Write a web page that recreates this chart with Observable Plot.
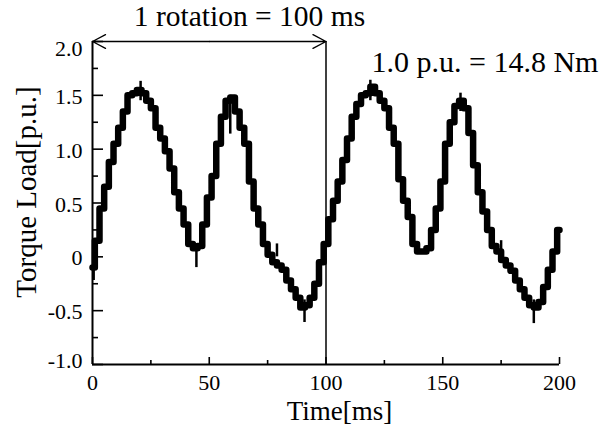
<!DOCTYPE html>
<html><head><meta charset="utf-8">
<script src="https://cdn.jsdelivr.net/npm/d3@7"></script>
<script src="https://cdn.jsdelivr.net/npm/@observablehq/plot@0.6"></script>
<style>body{margin:0;background:#fff;} svg text{font-family:'Liberation Serif','Times New Roman',serif;}</style>
</head><body><div id="chart"></div>
<script>
// ---- data ----
const timeMs = [0,2,4,6,8,10,12,14,16,18,20,22,24,26,28,30,32,34,36,38,40,42,44,46,48,50,52,54,56,58,60,62,64,66,68,70,72,74,76,78,80,82,84,86,88,90,92,94,96,98,100,102,104,106,108,110,112,114,116,118,120,122,124,126,128,130,132,134,136,138,140,142,144,146,148,150,152,154,156,158,160,162,164,166,168,170,172,174,176,178,180,182,184,186,188,190,192,194,196,198,200];
const torquePU = [-0.1,0.15,0.45,0.65,0.88,1.05,1.2,1.35,1.5,1.52,1.55,1.52,1.45,1.38,1.2,1.1,0.98,0.82,0.6,0.45,0.3,0.12,0.08,0.1,0.3,0.55,0.75,1.05,1.3,1.45,1.48,1.35,1.2,1.05,0.7,0.45,0.3,0.12,0.02,-0.05,-0.08,-0.12,-0.22,-0.3,-0.38,-0.47,-0.45,-0.38,-0.25,-0.05,0.12,0.35,0.52,0.7,0.9,1.1,1.3,1.42,1.5,1.52,1.58,1.52,1.45,1.38,1.2,1.05,0.72,0.52,0.37,0.12,0.05,0.05,0.08,0.25,0.45,0.7,1.05,1.25,1.4,1.45,1.38,1.15,0.85,0.6,0.42,0.25,0.1,0.05,-0.03,-0.08,-0.13,-0.22,-0.3,-0.38,-0.45,-0.47,-0.42,-0.28,-0.12,0.05,0.25];
// thin spikes on the trace
const spikeTime = [0.5,20.6,44.5,59,79,90.8,119,157.6,175,189];
const spikeLow  = [-0.22,1.45,-0.1,1.14,0.0,-0.61,1.45,1.35,0.0,-0.62];
const spikeHigh = [0.0,1.63,0.1,1.5,0.12,-0.4,1.64,1.52,0.15,-0.4];

const xMajor = [0,50,100,150,200];
const xMinor = [25,75,125,175];
const yMid = [-0.5,0,0.5,1,1.5];
const yMinor = [-0.75,-0.25,0.25,0.75,1.25,1.75];
const yLabel = {"-1":"-1.0","-0.5":"-0.5","0":"0","0.5":"0.5","1":"1.0","1.5":"1.5","2":"2.0"};

const rotationStart = 0, rotationEnd = 100, arrowLevel = 2.0;
const titleText = "1 rotation = 100 ms";
const noteText = "1.0 p.u. = 14.8 Nm";
const xTitle = "Time[ms]";
const yTitle = "Torque Load[p.u.]";

const trace = timeMs.map((t, i) => ({t, v: torquePU[i]}));
const spikes = spikeTime.map((t, i) => ({t, lo: spikeLow[i], hi: spikeHigh[i]}));

const serif = "Liberation Serif";
const fmtY = d => yLabel[String(d)];

const chart = Plot.plot({
  width: 608, height: 427,
  marginLeft: 92, marginRight: 49, marginTop: 41, marginBottom: 63,
  style: {fontFamily: "'Liberation Serif','Times New Roman',serif", background: "#fff", color: "#000", overflow: "visible"},
  x: {domain: [0, 200]},
  y: {domain: [-1, 2]},
  marks: [
    // ticks (inward)
    Plot.axisX(xMajor, {tickSize: -7, fill: "none", label: null, strokeWidth: 1.6}),
    Plot.axisX(xMinor, {tickSize: -4, fill: "none", label: null, strokeWidth: 1.6}),
    Plot.axisY([-1, ...yMid, 2], {tickSize: -11, fill: "none", label: null, strokeWidth: 1.6}),
    Plot.axisY(yMinor, {tickSize: -6, fill: "none", label: null, strokeWidth: 1.6}),
    // tick labels
    Plot.axisX(xMajor, {tickSize: 0, tickPadding: 10, fontSize: 22, fontFamily: serif, label: null, tickFormat: d => String(d)}),
    Plot.axisY(yMid, {tickSize: 0, tickPadding: 10, fontSize: 22, fontFamily: serif, label: null, tickFormat: fmtY, dy: 1.5}),
    Plot.axisY([2], {tickSize: 0, tickPadding: 10, fontSize: 22, fontFamily: serif, label: null, tickFormat: fmtY, dy: 7}),
    Plot.axisY([-1], {tickSize: 0, tickPadding: 10, fontSize: 22, fontFamily: serif, label: null, tickFormat: fmtY, dy: -4}),
    // axis lines
    Plot.ruleX([0], {y1: -1, y2: 2, strokeWidth: 2}),
    Plot.ruleY([-1], {x1: 0, x2: 200, strokeWidth: 2}),
    // rotation marker
    Plot.ruleX([rotationEnd], {y1: -1, y2: arrowLevel, strokeWidth: 1.5}),
    Plot.arrow([{a: (rotationStart + rotationEnd) / 2, b: rotationStart}, {a: (rotationStart + rotationEnd) / 2, b: rotationEnd}],
      {x1: "a", x2: "b", y1: () => arrowLevel, y2: () => arrowLevel, strokeWidth: 1.3, headLength: 17, headAngle: 56}),
    // trace
    Plot.line(trace, {x: "t", y: "v", curve: "step", strokeWidth: 6.5, stroke: "#000"}),
    Plot.ruleX(spikes, {x: "t", y1: "lo", y2: "hi", strokeWidth: 2.5}),
    // texts
    Plot.text([titleText], {frameAnchor: "top-left", dx: 157, dy: -25, textAnchor: "middle", lineAnchor: "middle", fontSize: 29.5, fontFamily: serif}),
    Plot.text([noteText], {frameAnchor: "top-left", dx: 279, dy: 21, textAnchor: "start", lineAnchor: "middle", fontSize: 30, fontFamily: serif}),
    Plot.text([xTitle], {frameAnchor: "bottom", dx: 13.5, dy: 47, textAnchor: "middle", lineAnchor: "middle", fontSize: 27, fontFamily: serif}),
    Plot.text([yTitle], {frameAnchor: "left", dx: -66, dy: -11, rotate: -90, textAnchor: "middle", lineAnchor: "middle", fontSize: 29, fontFamily: serif})
  ]
});
document.getElementById("chart").appendChild(chart);
</script>
</body></html>
